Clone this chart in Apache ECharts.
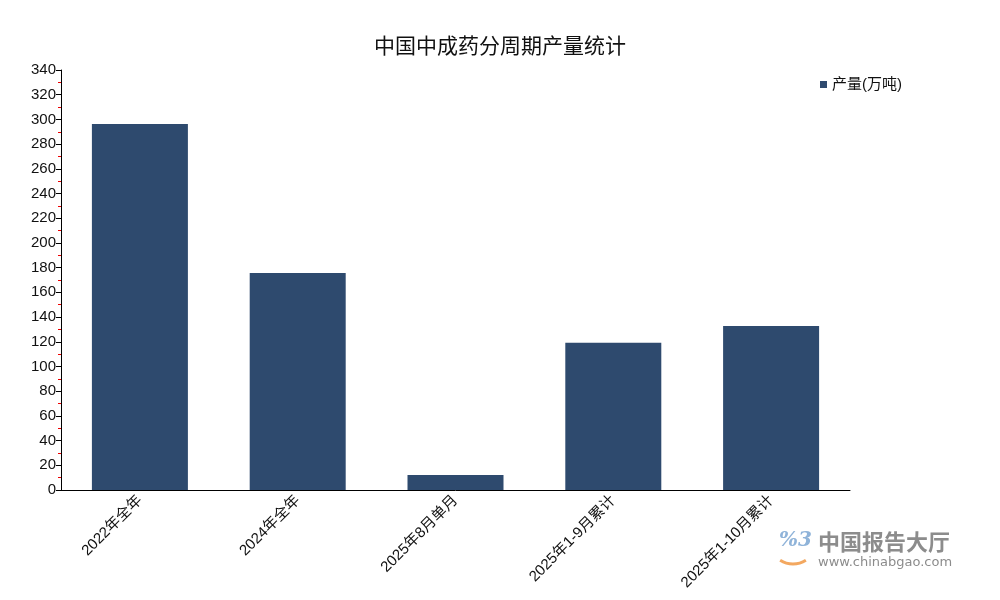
<!DOCTYPE html>
<html>
<head>
<meta charset="utf-8">
<script src="https://cdn.jsdelivr.net/npm/echarts@6/dist/echarts.min.js"></script>
<style>html,body{margin:0;padding:0;background:#fff}#c{width:1000px;height:600px}</style>
</head>
<body>
<div id="c"></div>
<script>
const categories = ['2022年全年', '2024年全年', '2025年8月单月', '2025年1-9月累计', '2025年1-10月累计'];
const production = [296.3, 175.7, 12.1, 119.2, 132.8];
const seriesName = '产量(万吨)';
const titleText = '中国中成药分周期产量统计';

const chart = echarts.init(document.getElementById('c'));
const font = '"Liberation Sans", "Noto Sans CJK SC", sans-serif';
chart.setOption({
  animation: false,
  backgroundColor: '#fff',
  title: {
    text: titleText, left: 'center', top: 32,
    textStyle: { fontSize: 21, fontWeight: 'normal', color: '#111', fontFamily: font }
  },
  legend: {
    data: [seriesName], right: 93, top: 72, itemWidth: 7, itemHeight: 7, itemGap: 4,
    icon: 'rect',
    textStyle: { fontSize: 15, color: '#111', fontFamily: font }
  },
  grid: { left: 61, right: 150, top: 70, bottom: 110, containLabel: false },
  xAxis: {
    type: 'category', data: categories,
    axisLine: { lineStyle: { color: '#000', width: 1 } },
    axisTick: { alignWithLabel: true, length: 5, lineStyle: { color: '#000' } },
    axisLabel: { rotate: 45, fontSize: 15, color: '#111', fontFamily: font, margin: 8 }
  },
  yAxis: {
    type: 'value', min: 0, max: 340, interval: 20,
    axisLine: { show: true, lineStyle: { color: '#000', width: 1 } },
    axisTick: { show: true, length: 5, lineStyle: { color: '#000' } },
    minorTick: { show: true, splitNumber: 2, length: 3, lineStyle: { color: '#e00' } },
    splitLine: { show: false },
    axisLabel: { fontSize: 15, color: '#111', fontFamily: font, margin: 5 }
  },
  series: [{
    name: seriesName, type: 'bar', data: production, barWidth: 96,
    itemStyle: { color: '#2e4a6e' }
  }],
  graphic: [
    { type: 'text', left: 818, top: 531, style: { text: '中国报告大厅', fontSize: 22, fontWeight: 'bold', fill: '#8c8c8c', fontFamily: '"Noto Sans CJK SC", sans-serif' } },
    { type: 'text', left: 818, top: 556, style: { text: 'www.chinabgao.com', fontSize: 13, fill: '#8c8c8c', fontFamily: '"DejaVu Sans", sans-serif' } },
    { type: 'text', left: 779, top: 531, style: { text: '%3', fontSize: 20, fontStyle: 'italic', fontWeight: 'bold', fill: '#8fb3d9', fontFamily: '"DejaVu Serif", serif' } },
    { type: 'arc', shape: { cx: 793, cy: 540, r: 24, startAngle: Math.PI * 0.32, endAngle: Math.PI * 0.68 }, style: { stroke: '#f3a860', lineWidth: 3, fill: null } }
  ]
});
</script>
</body>
</html>
